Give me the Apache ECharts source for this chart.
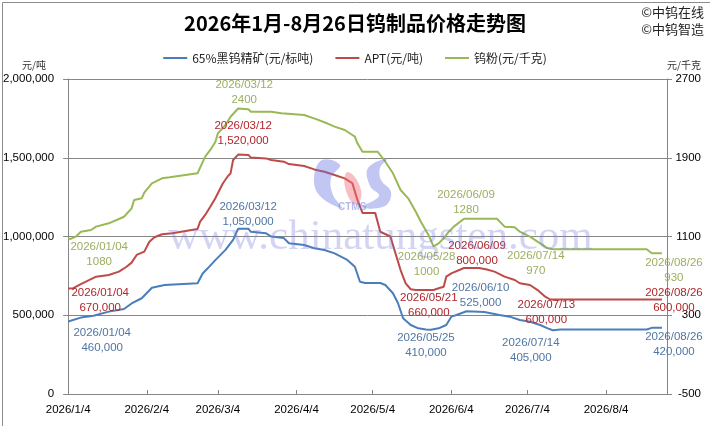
<!DOCTYPE html>
<html><head><meta charset="utf-8">
<script src="https://cdn.jsdelivr.net/npm/echarts@6/dist/echarts.min.js"></script>
<style>html,body{margin:0;padding:0;background:#fff}#c{width:710px;height:426px}</style>
</head><body><div id="c"></div>
<script>
// ---------- data ----------
const seriesNames = ['65%黑钨精矿(元/标吨)', 'APT(元/吨)', '钨粉(元/千克)'];

const concDates = ['2026-01-04','2026-01-09','2026-01-14','2026-01-20','2026-01-26','2026-01-29','2026-02-02','2026-02-06','2026-02-11','2026-02-24','2026-02-26','2026-02-28','2026-03-03','2026-03-07','2026-03-10','2026-03-12','2026-03-16','2026-03-17','2026-03-23','2026-03-25','2026-03-30','2026-04-01','2026-04-07','2026-04-11','2026-04-15','2026-04-19','2026-04-24','2026-04-27','2026-04-29','2026-05-01','2026-05-07','2026-05-09','2026-05-12','2026-05-14','2026-05-16','2026-05-19','2026-05-22','2026-05-25','2026-05-27','2026-05-30','2026-06-02','2026-06-04','2026-06-06','2026-06-10','2026-06-17','2026-06-23','2026-06-27','2026-07-01','2026-07-05','2026-07-09','2026-07-12','2026-07-14','2026-07-17','2026-08-20','2026-08-22','2026-08-26'];
const concValues = [460000,485000,497000,523000,540000,575000,608000,675000,692000,703000,765000,798000,850000,915000,978000,1050000,1050000,1030000,1020000,1000000,990000,957000,946000,925000,914000,893000,851000,808000,713000,705000,705000,692000,640000,576000,481000,438000,417000,410000,408000,417000,438000,491000,502000,525000,520000,502000,491000,470000,459000,438000,417000,405000,410000,410000,420000,420000];

const aptDates = ['2026-01-04','2026-01-06','2026-01-09','2026-01-11','2026-01-15','2026-01-20','2026-01-24','2026-01-27','2026-01-29','2026-01-31','2026-02-03','2026-02-05','2026-02-07','2026-02-10','2026-02-14','2026-02-24','2026-02-25','2026-02-27','2026-03-01','2026-03-03','2026-03-06','2026-03-08','2026-03-09','2026-03-10','2026-03-12','2026-03-16','2026-03-17','2026-03-23','2026-03-25','2026-03-30','2026-04-01','2026-04-07','2026-04-11','2026-04-15','2026-04-19','2026-04-23','2026-04-26','2026-04-28','2026-04-30','2026-05-05','2026-05-07','2026-05-11','2026-05-13','2026-05-15','2026-05-17','2026-05-19','2026-05-21','2026-05-28','2026-05-30','2026-06-01','2026-06-02','2026-06-04','2026-06-09','2026-06-15','2026-06-18','2026-06-21','2026-06-25','2026-06-29','2026-07-01','2026-07-05','2026-07-08','2026-07-11','2026-07-13','2026-08-26'];
const aptValues = [670000,672000,698000,713000,745000,756000,777000,808000,834000,883000,904000,967000,995000,1014000,1020000,1048000,1094000,1137000,1189000,1243000,1338000,1384000,1401000,1486000,1520000,1518000,1501000,1496000,1486000,1475000,1460000,1448000,1426000,1411000,1390000,1369000,1338000,1232000,1150000,1150000,1030000,1000000,893000,787000,703000,665000,660000,660000,671000,681000,745000,766000,800000,800000,790000,777000,745000,724000,703000,692000,660000,618000,600000,600000];

const powderDates = ['2026-01-04','2026-01-05','2026-01-07','2026-01-09','2026-01-13','2026-01-15','2026-01-20','2026-01-24','2026-01-26','2026-01-29','2026-01-30','2026-02-02','2026-02-03','2026-02-06','2026-02-10','2026-02-13','2026-02-24','2026-02-25','2026-02-27','2026-03-01','2026-03-03','2026-03-04','2026-03-07','2026-03-09','2026-03-12','2026-03-16','2026-03-17','2026-03-25','2026-03-29','2026-04-07','2026-04-12','2026-04-16','2026-04-19','2026-04-23','2026-04-26','2026-04-27','2026-04-28','2026-04-30','2026-05-06','2026-05-09','2026-05-12','2026-05-15','2026-05-18','2026-05-21','2026-05-23','2026-05-26','2026-05-28','2026-05-30','2026-06-01','2026-06-03','2026-06-05','2026-06-09','2026-06-22','2026-06-25','2026-06-29','2026-07-01','2026-07-05','2026-07-09','2026-07-12','2026-07-14','2026-08-20','2026-08-22','2026-08-26'];
const powderValues = [1080,1075,1098,1149,1166,1200,1234,1278,1301,1386,1471,1488,1545,1640,1691,1701,1742,1800,1911,1979,2060,2148,2233,2317,2400,2392,2368,2368,2351,2334,2290,2250,2216,2182,2131,2114,2047,1961,1961,1860,1742,1572,1488,1352,1250,1115,1000,1030,1082,1149,1200,1280,1280,1200,1193,1149,1098,1031,980,970,970,930,930];

const xTickDates = ['2026-01-04','2026-02-04','2026-03-04','2026-04-04','2026-05-04','2026-06-04','2026-07-04','2026-08-04'];
const xMinDate = '2026-01-04';
const xMaxDate = '2026-08-28';

const concNotes = ['2026-01-04','2026-03-12','2026-05-25','2026-06-10','2026-07-14','2026-08-26'];
const aptNotes = ['2026-01-04','2026-03-12','2026-05-21','2026-06-09','2026-07-13','2026-08-26'];
const powderNotes = ['2026-01-04','2026-03-12','2026-05-28','2026-06-09','2026-07-14','2026-08-26'];

// ---------- styling ----------
const lineColors = ['#4A7EBB', '#BE4B48', '#98B954'];
const noteColors = ['#4F76A3', '#B0252A', '#9BAF5F'];
const concOffsets = [[34,19],[10,-14],[0,16],[14,-16],[-22,20],[12,16]];
const aptOffsets = [[32,12],[5,-21],[13,15],[13,-15],[-4,13],[12,1]];
const powderOffsets = [[31,16],[6,-16],[-7,18],[2,-16],[-17,14],[12,17]];

function ts(d){ const p = d.split('-'); return Date.UTC(+p[0], +p[1]-1, +p[2]); }
function fmtDateTick(v){ const d = new Date(v); return d.getUTCFullYear() + '/' + (d.getUTCMonth()+1) + '/' + d.getUTCDate(); }
function commas(v){ return String(v).replace(/\B(?=(\d{3})+(?!\d))/g, ','); }
function pairs(dates, vals){ return dates.map((d,i)=>[ts(d), vals[i]]); }

function notesFor(dates, vals, notes, offsets, useCommas){
  return notes.map((d,i)=>{
    const v = vals[dates.indexOf(d)];
    return {
      coord: [ts(d), v],
      label: { formatter: d.replace(/-/g,'/') + '\n' + (useCommas ? commas(v) : String(v)), offset: offsets[i] }
    };
  });
}

const labelFont = 'Liberation Sans';
function mp(data, color){
  return {
    silent: true, animation: false,
    symbol: 'circle', symbolSize: 1,
    itemStyle: { color: 'rgba(0,0,0,0)' },
    label: { show: true, position: 'inside', color: color, fontSize: 11.5, lineHeight: 15, fontFamily: labelFont },
    data: data
  };
}

const gridColor = '#868686';
const logoBlue = 'rgba(110,120,225,0.42)';
const logoRed = 'rgba(240,110,120,0.45)';
const chart = echarts.init(document.getElementById('c'), null, {renderer:'canvas'});
chart.setOption({
  animation: false,
  backgroundColor: '#fff',
  title: {
    text: '2026年1月-8月26日钨制品价格走势图', left: 'center', top: 8,
    textStyle: { fontSize: 20, fontWeight: 'bold', color: '#000', fontFamily: 'Noto Sans CJK SC' }
  },
  legend: {
    top: 47, left: 'center', icon: 'rect', itemWidth: 24, itemHeight: 2, itemGap: 22,
    textStyle: { fontSize: 12, color: '#222', fontFamily: 'Noto Sans CJK SC' },
    data: seriesNames
  },
  grid: { left: 67, right: 43, top: 79, bottom: 32, containLabel: false },
  xAxis: {
    type: 'value', min: ts(xMinDate), max: ts(xMaxDate),
    axisLine: { show: true, lineStyle: { color: gridColor } },
    axisTick: { show: true, inside: true, length: 4, lineStyle: { color: gridColor }, customValues: xTickDates.map(ts) },
    axisLabel: { customValues: xTickDates.map(ts), formatter: fmtDateTick, fontSize: 11.5, color: '#000', margin: 10, fontFamily: labelFont },
    splitLine: { show: false }
  },
  yAxis: [
    {
      type: 'value', min: 0, max: 2000000, interval: 500000,
      axisLine: { show: true, lineStyle: { color: gridColor } },
      axisTick: { show: true, length: 5, lineStyle: { color: gridColor } },
      axisLabel: { formatter: commas, fontSize: 11.5, color: '#000', margin: 14, fontFamily: labelFont },
      splitLine: { show: true, lineStyle: { color: gridColor, width: 1 } }
    },
    {
      type: 'value', min: -500, max: 2700, interval: 800, position: 'right',
      axisLine: { show: true, lineStyle: { color: gridColor } },
      axisTick: { show: true, length: 5, lineStyle: { color: gridColor } },
      axisLabel: { formatter: function(v){ return String(v); }, fontSize: 11.5, color: '#000', margin: 34, align: 'right', fontFamily: labelFont },
      splitLine: { show: false }
    }
  ],
  graphic: [
    { type: 'rect', left: 0, top: 0, shape: { x: 0.5, y: 0.5, width: 709, height: 425 }, style: { fill: 'none', stroke: '#8c8c8c', lineWidth: 1 }, silent: true, z: 100 },
    { type: 'text', x: 22, y: 60, style: { text: '元/吨', fontSize: 10, fill: '#333', fontFamily: 'Noto Sans CJK SC' }, silent: true },
    { type: 'text', x: 667, y: 60, style: { text: '元/千克', fontSize: 10, fill: '#333', fontFamily: 'Noto Sans CJK SC' }, silent: true },
    { type: 'text', x: 704, y: 6, style: { text: '©中钨在线', fontSize: 13, fill: '#222', align: 'right', fontFamily: 'Noto Sans CJK SC' }, silent: true },
    { type: 'text', x: 704, y: 23, style: { text: '©中钨智造', fontSize: 13, fill: '#222', align: 'right', fontFamily: 'Noto Sans CJK SC' }, silent: true },
    { type: 'polygon', silent: true, z: 50, shape: { smooth: 0.4, points: [[322,160],[314,178],[320,196],[342,208],[333,195],[331,178],[340,165]] }, style: { fill: logoBlue } },
    { type: 'polygon', silent: true, z: 50, shape: { smooth: 0.5, points: [[348,172],[345,187],[356,205],[361,190]] }, style: { fill: logoRed } },
    { type: 'polygon', silent: true, z: 50, shape: { smooth: 0.4, points: [[387,159],[368,168],[370,186],[379,196],[362,207],[385,206],[391,192],[381,180],[380,168]] }, style: { fill: logoBlue } },
    { type: 'text', x: 168, y: 216, style: { text: 'www.chinatungsten.com', fontSize: 43, fill: 'rgba(120,120,220,0.33)', fontFamily: 'Liberation Serif' }, silent: true, z: 50 },
    { type: 'text', x: 338, y: 202, style: { text: 'CTMS', fontSize: 10, fontWeight: 'bold', fill: 'rgba(120,130,220,0.55)', fontFamily: 'Liberation Sans' }, silent: true, z: 50 }
  ],
  series: [
    {
      name: seriesNames[0], type: 'line', yAxisIndex: 0, showSymbol: false, symbol: 'none',
      data: pairs(concDates, concValues),
      lineStyle: { width: 2, color: lineColors[0] }, itemStyle: { color: lineColors[0] },
      markPoint: mp(notesFor(concDates, concValues, concNotes, concOffsets, true), noteColors[0])
    },
    {
      name: seriesNames[1], type: 'line', yAxisIndex: 0, showSymbol: false, symbol: 'none',
      data: pairs(aptDates, aptValues),
      lineStyle: { width: 2, color: lineColors[1] }, itemStyle: { color: lineColors[1] },
      markPoint: mp(notesFor(aptDates, aptValues, aptNotes, aptOffsets, true), noteColors[1])
    },
    {
      name: seriesNames[2], type: 'line', yAxisIndex: 1, showSymbol: false, symbol: 'none',
      data: pairs(powderDates, powderValues),
      lineStyle: { width: 2, color: lineColors[2] }, itemStyle: { color: lineColors[2] },
      markPoint: mp(notesFor(powderDates, powderValues, powderNotes, powderOffsets, false), noteColors[2])
    }
  ]
});
</script></body></html>
